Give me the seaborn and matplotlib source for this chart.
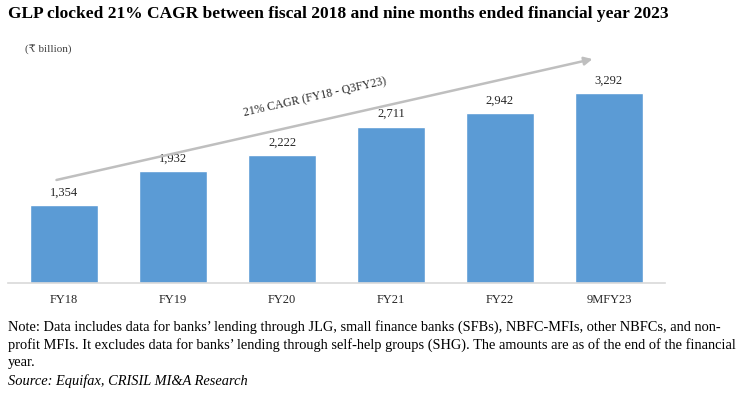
"""
GLP bar chart with CAGR arrow
"""
import matplotlib
matplotlib.use("Agg")
import matplotlib.pyplot as plt
import seaborn as sns
import pandas as pd

years = ["FY18", "FY19", "FY20", "FY21", "FY22", "9MFY23"]
glp = [1354, 1932, 2222, 2711, 2942, 3292]
value_labels = ["1,354", "1,932", "2,222", "2,711", "2,942", "3,292"]

title = "GLP clocked 21% CAGR between fiscal 2018 and nine months ended financial year 2023"
unit = "(\u20b9 billion)"
cagr_text = "21% CAGR (FY18 - Q3FY23)"
note = ("Note: Data includes data for banks\u2019 lending through JLG, small finance banks (SFBs), NBFC-MFIs, other NBFCs, and non-\n"
        "profit MFIs. It excludes data for banks\u2019 lending through self-help groups (SHG). The amounts are as of the end of the financial\n"
        "year.")
source = "Source: Equifax, CRISIL MI&A Research"

sns.set_theme(style="white")
plt.rcParams['font.family'] = ['Liberation Serif', 'DejaVu Serif', 'DejaVu Sans']

df = pd.DataFrame({"year": years, "glp": glp})

fig = plt.figure(figsize=(7.52, 3.93), dpi=100)
ax = fig.add_axes([8 / 752, 110 / 393, 657 / 752, 243 / 393])

sns.barplot(data=df, x="year", y="glp", color="#5B9BD5", saturation=1,
            width=0.63, ax=ax)

ax.set_xlim(-0.515, 5.515)
ax.set_ylim(0, 4210)
ax.set_xlabel("")
ax.set_ylabel("")
ax.set_yticks([])
ax.tick_params(axis="x", length=0, pad=8, labelsize=9, labelcolor="#262626")
for s in ["top", "left", "right"]:
    ax.spines[s].set_visible(False)
ax.spines["bottom"].set_color("#D9D9D9")
ax.spines["bottom"].set_linewidth(1.2)

for i, (v, lab) in enumerate(zip(glp, value_labels)):
    ax.text(i, v + 110, lab, ha="center", va="bottom", fontsize=9, color="#262626")

# CAGR arrow
ax.annotate("", xy=(4.85, 3880), xytext=(-0.07, 1785),
            arrowprops=dict(arrowstyle="-|>", color="#BFBFBF", lw=1.8,
                            mutation_scale=12, shrinkA=0, shrinkB=0))
ax.text(2.3, 3220, cagr_text, ha="center", va="center", rotation=12.7,
        rotation_mode="anchor", fontsize=8.5, color="#262626")

fig.text(8 / 752, 1 - 14 / 393, title, ha="left", va="center",
         fontsize=12.5, fontweight="bold", color="black")
fig.text(25 / 752, 1 - 50 / 393, unit, ha="left", va="center",
         fontsize=8, color="#404040")
fig.text(8 / 752, 1 - 320 / 393, note, ha="left", va="top",
         fontsize=10.4, color="black", linespacing=1.38)
fig.text(8 / 752, 1 - 381 / 393, source, ha="left", va="center",
         fontsize=10.4, style="italic", color="black")

plt.savefig("out.png", dpi=100)
plt.close()
